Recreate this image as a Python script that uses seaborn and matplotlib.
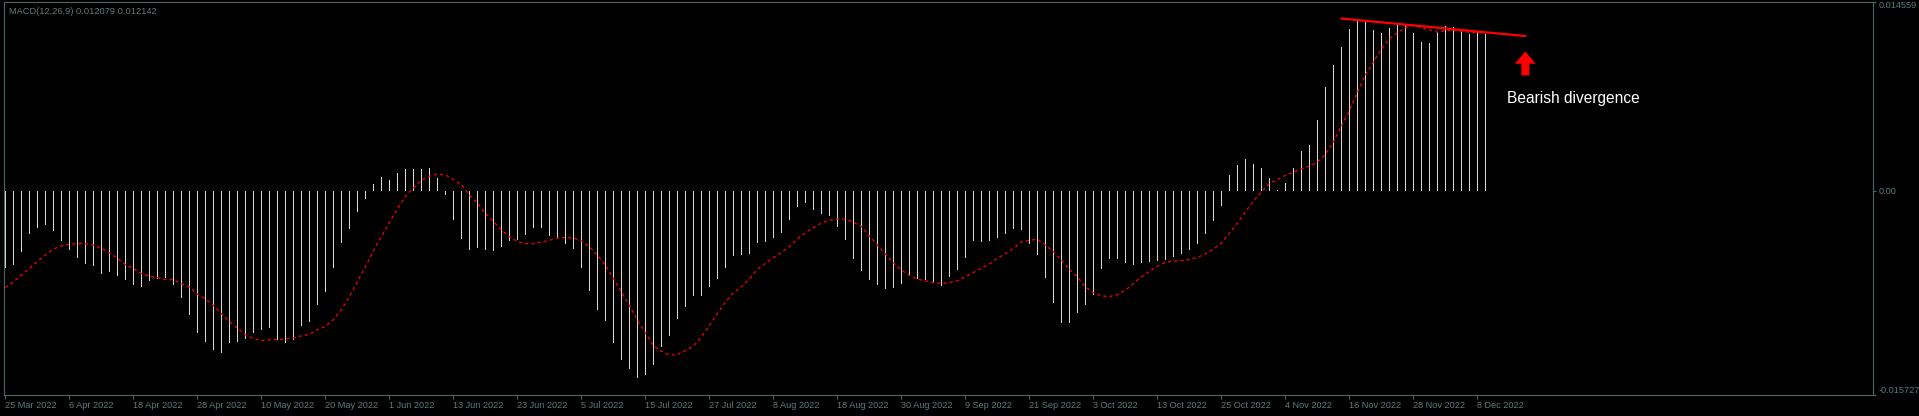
"""MACD(12,26,9) sub-window, recreated in MetaTrader style with seaborn."""

import numpy as np
import pandas as pd
import seaborn as sns
import matplotlib.pyplot as plt
from matplotlib.patches import FancyArrow

# ---------------------------------------------------------------------------
# Data (MACD main and signal, in units of 1e-3)
# ---------------------------------------------------------------------------
MACD = [
    -5.93, -5.73, -4.72, -3.33, -2.86, -2.63, -3.10, -3.84, -4.57, -5.19,
    -5.65, -5.81, -6.42, -6.27, -6.58, -6.89, -7.28, -7.43, -6.97, -6.79,
    -6.76, -7.28, -8.28, -9.60, -10.99, -11.61, -12.23, -12.46, -11.69, -11.61,
    -11.38, -10.99, -10.76, -10.60, -11.53, -11.69, -11.53, -10.45, -10.14, -8.82,
    -7.82, -5.96, -4.02, -2.94, -1.63, -0.62, 0.54, 1.08, 0.85, 1.39,
    1.63, 1.63, 1.63, 1.78, 1.01, -0.31, -2.24, -3.72, -4.57, -4.41,
    -4.57, -4.64, -4.33, -3.87, -3.79, -3.41, -2.86, -2.86, -3.48, -3.64,
    -4.10, -4.49, -5.96, -7.74, -9.21, -10.06, -11.76, -13.00, -13.70, -14.40,
    -14.16, -13.39, -12.00, -11.15, -9.91, -8.98, -8.13, -8.13, -7.43, -6.81,
    -5.96, -5.03, -4.95, -4.88, -4.02, -3.95, -3.64, -3.25, -2.24, -1.24,
    -0.93, -1.47, -1.78, -1.94, -2.79, -3.79, -5.26, -6.19, -6.89, -7.28,
    -7.59, -7.51, -7.20, -6.58, -6.81, -6.89, -7.04, -7.35, -6.66, -6.11,
    -5.19, -3.87, -3.95, -3.87, -3.64, -3.33, -2.94, -3.02, -4.10, -4.95,
    -6.73, -8.67, -10.22, -10.22, -9.44, -8.82, -8.05, -6.04, -5.26, -5.26,
    -5.60, -5.70, -5.60, -5.50, -5.40, -5.30, -5.10, -4.90, -4.60, -4.10,
    -3.30, -2.30, -1.20, 1.24, 1.94, 2.40, 2.09, 1.78, 1.01, 0.05,
    0.62, 1.78, 3.02, 3.48, 5.42, 7.97, 9.68, 11.07, 12.46, 13.08,
    13.16, 12.38, 12.15, 12.54, 12.85, 12.77, 12.15, 11.46, 11.38, 12.23,
    12.69, 12.62, 12.31, 12.07, 12.31, 12.08,
]

SIGNAL = [
    -7.46, -7.02, -6.50, -5.99, -5.47, -4.95, -4.49, -4.26, -4.13, -4.08,
    -4.08, -4.18, -4.44, -4.77, -5.21, -5.68, -6.01, -6.37, -6.60, -6.68,
    -6.84, -6.86, -7.15, -7.40, -7.97, -8.31, -8.82, -9.47, -10.06, -10.58,
    -11.09, -11.38, -11.53, -11.48, -11.48, -11.40, -11.33, -11.17, -11.07, -10.71,
    -10.45, -9.93, -9.16, -8.18, -7.02, -5.86, -4.64, -3.53, -2.45, -1.42,
    -0.44, 0.21, 0.80, 1.11, 1.29, 1.21, 0.85, 0.46, -0.34, -0.95,
    -1.73, -2.37, -3.02, -3.53, -3.92, -4.08, -4.08, -3.95, -3.82, -3.66,
    -3.61, -3.64, -3.87, -4.31, -4.95, -5.73, -6.76, -7.79, -8.82, -9.98,
    -10.94, -11.92, -12.36, -12.64, -12.62, -12.31, -11.97, -11.27, -10.37, -9.47,
    -8.57, -7.87, -7.40, -6.79, -6.06, -5.60, -5.16, -4.75, -4.31, -3.72,
    -3.23, -2.84, -2.50, -2.27, -2.19, -2.19, -2.43, -2.76, -3.48, -4.18,
    -4.88, -5.55, -6.11, -6.53, -6.81, -6.94, -7.07, -7.15, -7.07, -6.94,
    -6.63, -6.30, -5.96, -5.65, -5.21, -4.85, -4.44, -3.95, -3.82, -3.74,
    -4.18, -4.70, -5.34, -6.06, -6.63, -7.40, -7.84, -8.10, -8.15, -8.00,
    -7.66, -7.16, -6.64, -6.21, -5.83, -5.52, -5.42, -5.38, -5.31, -5.14,
    -4.87, -4.51, -4.03, -3.29, -2.49, -1.65, -0.80, -0.10, 0.55, 0.85,
    1.18, 1.42, 1.68, 1.88, 2.19, 2.79, 3.74, 4.98, 6.14, 7.56,
    8.90, 9.88, 10.91, 11.69, 12.15, 12.54, 12.72, 12.54, 12.38, 12.20,
    12.31, 12.36, 12.26, 12.20, 12.15, 12.14,
]

DATE_LABELS = [
    "25 Mar 2022", "6 Apr 2022", "18 Apr 2022", "28 Apr 2022", "10 May 2022",
    "20 May 2022", "1 Jun 2022", "13 Jun 2022", "23 Jun 2022", "5 Jul 2022",
    "15 Jul 2022", "27 Jul 2022", "8 Aug 2022", "18 Aug 2022", "30 Aug 2022",
    "9 Sep 2022", "21 Sep 2022", "3 Oct 2022", "13 Oct 2022", "25 Oct 2022",
    "4 Nov 2022", "16 Nov 2022", "28 Nov 2022", "8 Dec 2022",
]
BARS_PER_LABEL = 8

Y_MAX = 0.014559
Y_MIN = -0.015727
TITLE = "MACD(12,26,9) 0.012079 0.012142"

# divergence annotation (bar index, value)
TREND_X = [167, 190]
TREND_Y = [0.01325, 0.01190]
ARROW_X = 190
ARROW_Y = [0.00887, 0.01072]
NOTE = "Bearish divergence"
NOTE_POS = (187.7, 0.00710)

# ---------------------------------------------------------------------------
# Style
# ---------------------------------------------------------------------------
BG = "#000000"
FRAME = "#4a6666"
TEXT = "#5c7c7c"
BAR = "#dadada"

sns.set_theme(style="dark")
plt.rcParams["font.family"] = ["Liberation Sans", "DejaVu Sans"]

df = pd.DataFrame({
    "bar": np.arange(len(MACD)),
    "macd": np.array(MACD) * 1e-3,
    "signal": np.array(SIGNAL) * 1e-3,
})

W, H = 1919, 416
fig = plt.figure(figsize=(W / 100, H / 100), dpi=100, facecolor=BG)
ax = fig.add_axes([4 / W, (H - 395) / H, (1873 - 4) / W, (395 - 1.5) / H])
ax.set_facecolor(BG)

sns.barplot(data=df, x="bar", y="macd", native_scale=True, width=0.2,
            color=BAR, saturation=1, errorbar=None, linewidth=0, ax=ax)
sns.lineplot(data=df, x="bar", y="signal", color="#ff0000", lw=0.9,
             linestyle=(0, (2.5, 2.5)), ax=ax)
sns.lineplot(x=TREND_X, y=TREND_Y, color="#ff0000", lw=1.6, ax=ax)

ax.add_patch(FancyArrow(ARROW_X, ARROW_Y[0], 0, ARROW_Y[1] - ARROW_Y[0],
                        width=1.0, head_width=2.6, head_length=0.00095,
                        length_includes_head=True, color="#ff0000", lw=0))
ax.text(NOTE_POS[0], NOTE_POS[1], NOTE, color="white", fontsize=11.2,
        ha="left", va="center")

ax.set_xlim(-0.17, 233.46)
ax.set_ylim(Y_MIN, Y_MAX)
ax.grid(False)
ax.set_xlabel("")
ax.set_ylabel("")

# time scale
ticks = list(range(0, len(DATE_LABELS) * BARS_PER_LABEL, BARS_PER_LABEL))
ax.set_xticks(ticks)
ax.set_xticklabels(DATE_LABELS, ha="left")
ax.tick_params(axis="x", direction="out", length=3, width=0.8, color=FRAME,
               labelcolor=TEXT, labelsize=6.6, pad=1.5, bottom=True)

# price scale on the right
ax.yaxis.tick_right()
ax.set_yticks([Y_MIN, 0.0, Y_MAX])
ax.set_yticklabels([f"{Y_MIN:.6f}", "0.00", f"{Y_MAX:.6f}"])
ax.tick_params(axis="y", direction="out", length=2, width=0.8, color=FRAME,
               labelcolor=TEXT, labelsize=6.6, pad=2, right=True, left=False)
labels = ax.get_yticklabels()
labels[0].set_va("bottom")
labels[2].set_va("top")

for side in ax.spines.values():
    side.set_visible(True)
    side.set_color(FRAME)
    side.set_linewidth(0.8)

fig.text(9 / W, 1 - 11 / H, TITLE, color=TEXT, fontsize=6.7, ha="left", va="center")

fig.savefig("out.png", dpi=100, facecolor=BG)
